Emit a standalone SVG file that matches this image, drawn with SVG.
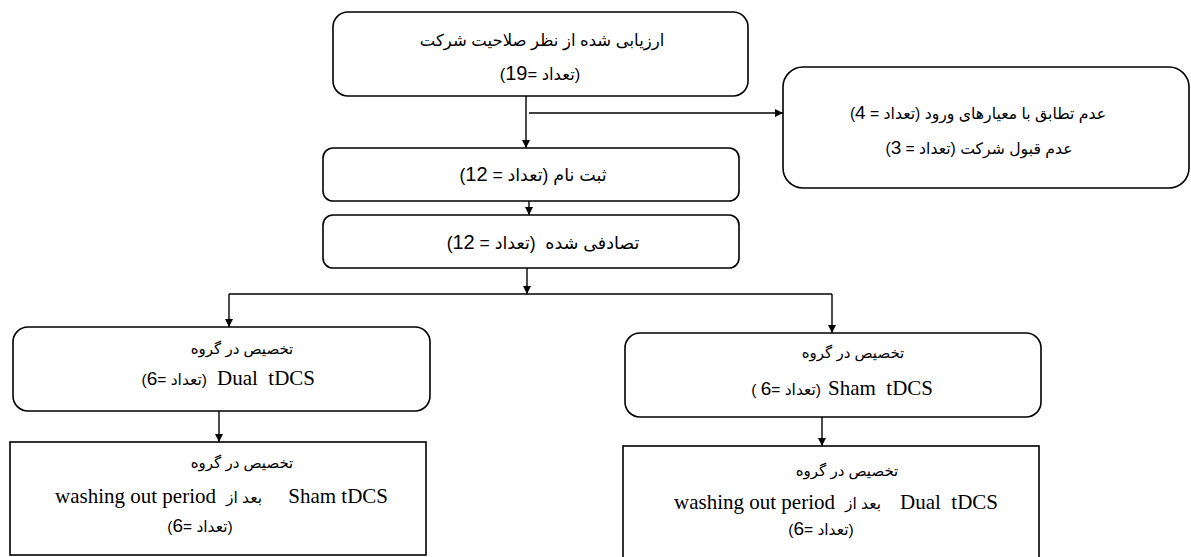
<svg xmlns="http://www.w3.org/2000/svg" width="1191" height="557" viewBox="0 0 1191 557">
<style>
.box{fill:#fff;stroke:#000;stroke-width:1.6}
.ln{fill:none;stroke:#000;stroke-width:1.4}
.fa{font-family:"Liberation Sans","DejaVu Sans",sans-serif;font-size:17.5px;fill:#000}
.fa.t{font-size:16.5px}
.fa.r{font-size:15.7px}
.fa.g{font-size:15px}
.fa.s{font-size:15.5px}
.num{font-size:20px}
.n2{font-size:19px}
.en{font-family:"Liberation Serif","Times New Roman",serif;font-size:21px;fill:#000}
</style>
<defs>
<marker id="ah" markerUnits="userSpaceOnUse" markerWidth="10" markerHeight="10" refX="8" refY="4" orient="auto">
<path d="M0,0 L8,4 L0,8 Z" fill="#000"/>
</marker>
</defs>
<rect width="1191" height="557" fill="#fff"/>
<g id="connectors">
<line class="ln" x1="526" y1="96" x2="526" y2="148" marker-end="url(#ah)"/>
<line class="ln" x1="529" y1="113" x2="783" y2="113" marker-end="url(#ah)"/>
<line class="ln" x1="529" y1="201" x2="529" y2="215" marker-end="url(#ah)"/>
<line class="ln" x1="527" y1="268" x2="527" y2="294" marker-end="url(#ah)"/>
<line class="ln" x1="229" y1="294" x2="832" y2="294"/>
<line class="ln" x1="229" y1="294" x2="229" y2="327" marker-end="url(#ah)"/>
<line class="ln" x1="832" y1="294" x2="832" y2="333" marker-end="url(#ah)"/>
<line class="ln" x1="219" y1="411" x2="219" y2="442" marker-end="url(#ah)"/>
<line class="ln" x1="822" y1="417" x2="822" y2="446" marker-end="url(#ah)"/>
</g>
<g id="n-eval">
<rect class="box" x="333" y="12" width="415" height="84" rx="15"/>
<text class="fa t" x="542" y="46" text-anchor="middle" direction="rtl">ارزیابی شده از نظر صلاحیت شرکت</text>
<text class="fa t" x="540" y="80" text-anchor="middle" direction="rtl">(تعداد =<tspan class="num">19</tspan>)</text>
</g>
<g id="n-excluded">
<rect class="box" x="783" y="67" width="406" height="121" rx="20"/>
<text class="fa r" x="978" y="119" text-anchor="middle" direction="rtl">عدم تطابق با معیارهای ورود (تعداد = <tspan class="n2">4</tspan>)</text>
<text class="fa r" x="979" y="154" text-anchor="middle" direction="rtl">عدم قبول شرکت (تعداد = <tspan class="n2">3</tspan>)</text>
</g>
<g id="n-enrol">
<rect class="box" x="323" y="148" width="416" height="53" rx="10"/>
<text class="fa" x="533" y="181" text-anchor="middle" direction="rtl">ثبت نام (تعداد = <tspan class="num">12</tspan>)</text>
</g>
<g id="n-random">
<rect class="box" x="323" y="215" width="416" height="53" rx="10"/>
<text class="fa" x="543" y="249" text-anchor="middle" direction="rtl" xml:space="preserve">تصادفی شده  (تعداد = <tspan class="num">12</tspan>)</text>
</g>
<g id="n-dual">
<rect class="box" x="13" y="327" width="417" height="84" rx="15"/>
<text class="fa g" x="242" y="354" text-anchor="middle" direction="rtl">تخصیص در گروه</text>
<text class="en" x="315" y="385" text-anchor="end" xml:space="preserve">Dual  tDCS</text>
<text class="fa s" x="207" y="385" direction="rtl">(تعداد =<tspan class="n2">6</tspan>)</text>
</g>
<g id="n-sham">
<rect class="box" x="625" y="333" width="416" height="84" rx="15"/>
<text class="fa g" x="853" y="358" text-anchor="middle" direction="rtl">تخصیص در گروه</text>
<text class="en" x="933" y="395" text-anchor="end" xml:space="preserve">Sham  tDCS</text>
<text class="fa s" x="821" y="395" direction="rtl" xml:space="preserve">(تعداد =<tspan class="n2">6</tspan> )</text>
</g>
<g id="n-sham-after">
<rect class="box" x="10" y="442" width="416" height="113"/>
<text class="fa g" x="242" y="468" text-anchor="middle" direction="rtl">تخصیص در گروه</text>
<text class="en" x="55" y="503">washing out period</text>
<text class="fa s" x="262" y="503" direction="rtl">بعد از</text>
<text class="en" x="388" y="503" text-anchor="end">Sham tDCS</text>
<text class="fa s" x="200" y="532" text-anchor="middle" direction="rtl">(تعداد =<tspan class="n2">6</tspan>)</text>
</g>
<g id="n-dual-after">
<rect class="box" x="623" y="446" width="416" height="115"/>
<text class="fa g" x="847" y="476" text-anchor="middle" direction="rtl">تخصیص در گروه</text>
<text class="en" x="674" y="509">washing out period</text>
<text class="fa s" x="881" y="509" direction="rtl">بعد از</text>
<text class="en" x="998" y="509" text-anchor="end" xml:space="preserve">Dual  tDCS</text>
<text class="fa s" x="821" y="535" text-anchor="middle" direction="rtl">(تعداد =<tspan class="n2">6</tspan>)</text>
</g>
</svg>
